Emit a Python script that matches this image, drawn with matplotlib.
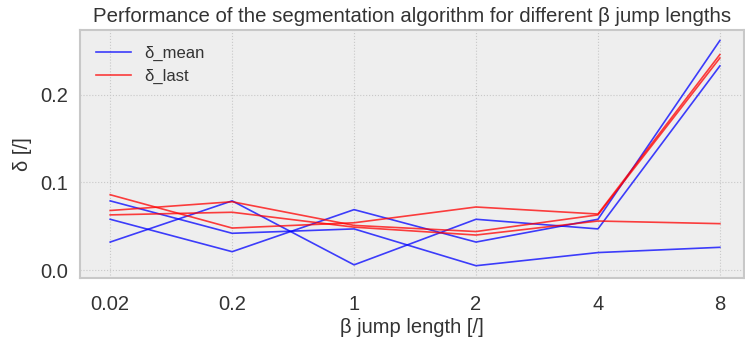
import matplotlib
matplotlib.use("Agg")
import matplotlib.pyplot as plt

jump_lengths = ["0.02", "0.2", "1", "2", "4", "8"]

delta_mean = [
    [0.079, 0.042, 0.047, 0.005, 0.020, 0.026],
    [0.032, 0.079, 0.006, 0.058, 0.047, 0.233],
    [0.058, 0.021, 0.069, 0.032, 0.058, 0.262],
]
delta_last = [
    [0.086, 0.048, 0.054, 0.072, 0.064, 0.246],
    [0.068, 0.078, 0.051, 0.044, 0.063, 0.242],
    [0.063, 0.066, 0.049, 0.040, 0.056, 0.053],
]

plt.rcParams["font.family"] = ["Liberation Sans", "DejaVu Sans"]

fig = plt.figure(figsize=(7.45, 3.39), dpi=100)
ax = fig.add_axes([0.107, 0.18, 0.892, 0.7315])
ax.set_facecolor("#eeeeee")

x = list(range(len(jump_lengths)))
for i, run in enumerate(delta_mean):
    ax.plot(x, run, color="#0000ff", alpha=0.75, lw=1.2,
            label="δ_mean" if i == 0 else None)
for i, run in enumerate(delta_last):
    ax.plot(x, run, color="#ff0000", alpha=0.75, lw=1.2,
            label="δ_last" if i == 0 else None)

ax.set_xticks(x)
ax.set_xticklabels(jump_lengths)
ax.set_yticks([0.0, 0.1, 0.2])
ax.set_xlim(-0.25, 5.2)
ax.set_ylim(-0.009, 0.274)

ax.grid(True, color="#c8c8c8", ls=":", lw=0.8)
ax.tick_params(axis="x", length=0, labelsize=14.5, colors="#333333", pad=12)
ax.tick_params(axis="y", length=0, labelsize=14.5, colors="#333333", pad=8)
for s in ax.spines.values():
    s.set_color("#c8c8c8")
    s.set_linewidth(1.5)

ax.set_title("Performance of the segmentation algorithm for different β jump lengths",
             fontsize=14.7, color="#333333", pad=6)
ax.set_xlabel("β jump length [/]", fontsize=14.5, color="#333333", labelpad=3)
ax.set_ylabel("δ [/]", fontsize=14.5, color="#333333", labelpad=6)

leg = ax.legend(loc="upper left", frameon=False, fontsize=12, handlelength=2.1,
                handletextpad=0.8, labelspacing=0.45, borderaxespad=0.55)
for t in leg.get_texts():
    t.set_color("#333333")

fig.savefig("out.png", dpi=100)
